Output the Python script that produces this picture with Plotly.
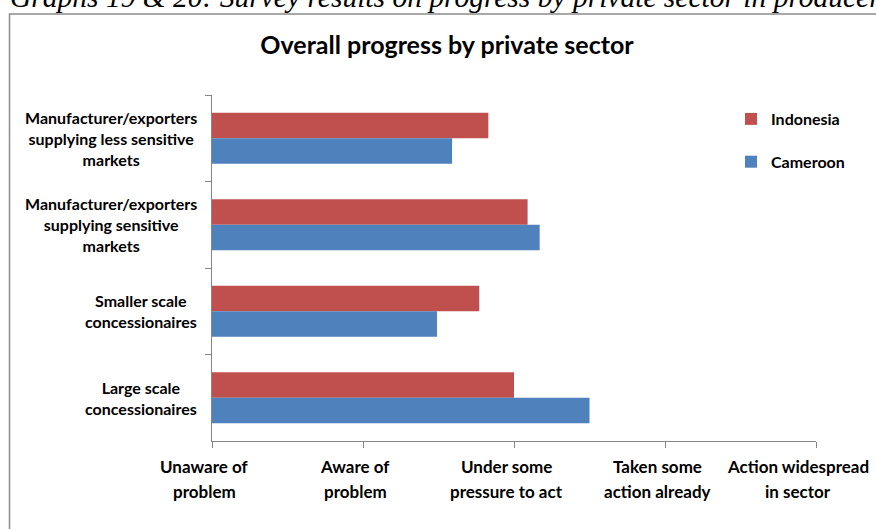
import plotly.graph_objects as go

# Sector categories, listed top to bottom
sectors = [
    "Manufacturer/exporters<br>supplying less sensitive<br>markets",
    "Manufacturer/exporters<br>supplying sensitive<br>markets",
    "Smaller scale<br>concessionaires",
    "Large scale<br>concessionaires",
]
indonesia = [1.83, 2.09, 1.77, 2.0]
cameroon = [1.59, 2.17, 1.49, 2.5]

# Progress scale (x axis)
stage_values = [0, 1, 2, 3, 4]
stage_labels = [
    "Unaware of<br>problem",
    "Aware of<br>problem",
    "Under some<br>pressure to act",
    "Taken some<br>action already",
    "Action widespread<br>in sector",
]
# Horizontal nudge (px) of each stage label; the last one is pulled inside the box
stage_label_shift = [-8, -8, -8, -8, -18]

W, H = 876, 529
L, R, T, B = 212, 60, 95, 88
PW, PH = W - L - R, H - T - B


def px(x):
    return (x - L) / PW


def py(y):
    return (H - B - y) / PH


RED = "#C0504D"
BLUE = "#4F81BD"
AXIS = "#868686"
FONT = "Lato"

fig = go.Figure()
fig.add_trace(go.Bar(y=sectors, x=indonesia, orientation="h", name="Indonesia",
                     marker=dict(color=RED, line=dict(width=0)), legendgroup="a"))
fig.add_trace(go.Bar(y=sectors, x=cameroon, orientation="h", name="Cameroon",
                     marker=dict(color=BLUE, line=dict(width=0)), legendgroup="b"))

annotations = []
# Category labels, centred line by line to the left of the axis
for s in sectors:
    annotations.append(dict(
        x=px(199), xref="paper", y=s, yref="y", text=s, showarrow=False,
        xanchor="right", yanchor="middle", align="center",
        font=dict(family=FONT, size=16, color="black", weight="bold"),
    ))
# Stage labels below the value axis, one annotation per line
for v, lab, dx in zip(stage_values, stage_labels, stage_label_shift):
    for i, line in enumerate(lab.split("<br>")):
        annotations.append(dict(
            x=v, xref="x", y=py(466 + 25 * i), yref="paper", text=line,
            showarrow=False, xanchor="center", yanchor="middle", xshift=dx,
            font=dict(family=FONT, size=17, color="black", weight="bold"),
        ))
# Caption above the chart box
annotations.append(dict(
    x=px(8), xref="paper", y=py(-3), yref="paper",
    text="Graphs 19 &amp; 20: Survey results on progress by private sector in producer",
    showarrow=False, xanchor="left", yanchor="middle",
    font=dict(family="Liberation Serif", size=29.5, color="black", style="italic"),
))

fig.update_layout(
    width=W, height=H,
    margin=dict(l=L, r=R, t=T, b=B, autoexpand=False),
    paper_bgcolor="white", plot_bgcolor="white",
    barmode="group", bargap=0.41, bargroupgap=0,
    title=dict(text="<b>Overall progress by private sector</b>",
               x=px(447), xref="paper", xanchor="center",
               y=1 - 45 / H, yref="container", yanchor="middle",
               font=dict(family=FONT, size=25, color="black")),
    xaxis=dict(range=[0, 4], tickvals=stage_values, showticklabels=False,
               ticks="outside", ticklen=6, tickcolor=AXIS, showline=True,
               linecolor=AXIS, linewidth=1, showgrid=False, zeroline=False),
    yaxis=dict(type="category", autorange="reversed", showticklabels=False,
               ticks="outside", tickson="boundaries", ticklen=6, tickcolor=AXIS,
               showline=True, linecolor=AXIS, linewidth=1, showgrid=False,
               zeroline=False),
    legend=dict(x=px(731), y=py(102), xanchor="left", yanchor="top",
                traceorder="grouped", tracegroupgap=19,
                font=dict(family=FONT, size=16, color="black", weight="bold"),
                bgcolor="rgba(0,0,0,0)"),
    shapes=[dict(type="rect", xref="paper", yref="paper",
                 x0=px(9.5), x1=px(890), y0=py(560), y1=py(14),
                 line=dict(color="#8c8c8c", width=1.5), fillcolor="rgba(0,0,0,0)",
                 layer="below")],
    annotations=annotations,
)

fig.write_html("out.html")
